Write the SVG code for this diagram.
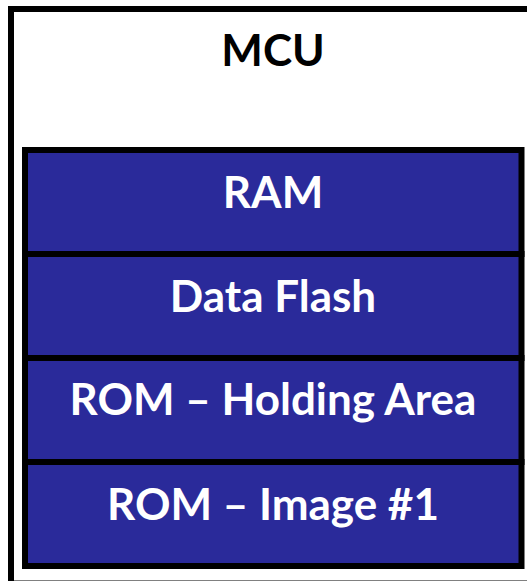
<svg xmlns="http://www.w3.org/2000/svg" width="527" height="581" viewBox="0 0 527 581">
  <style>
    .frame { fill: #ffffff; stroke: #000000; stroke-width: 6; }
    .block { fill: #2a2a9a; stroke: #000000; stroke-width: 6; }
    .label { font-family: "Lato", "Liberation Sans", sans-serif; font-weight: bold; font-size: 44px; text-anchor: middle; }
    .title { fill: #000000; }
    .inner { fill: #ffffff; }
  </style>

  <!-- MCU outline (right and bottom edges run past the canvas) -->
  <g id="mcu">
    <rect class="frame" x="11" y="9" width="530" height="574.5"/>
    <text class="label title" x="273" y="66">MCU</text>
  </g>

  <!-- Memory map, stacked top to bottom -->
  <g id="ram">
    <rect class="block" x="25" y="150" width="496.5" height="104"/>
    <text class="label inner" x="273" y="208">RAM</text>
  </g>
  <g id="data-flash">
    <rect class="block" x="25" y="254" width="496.5" height="104"/>
    <text class="label inner" x="273" y="312">Data Flash</text>
  </g>
  <g id="rom-holding">
    <rect class="block" x="25" y="358" width="496.5" height="104"/>
    <text class="label inner" x="273" y="415">ROM – Holding Area</text>
  </g>
  <g id="rom-image">
    <rect class="block" x="25" y="462" width="496.5" height="104"/>
    <text class="label inner" x="273" y="520">ROM – Image #1</text>
  </g>
</svg>
